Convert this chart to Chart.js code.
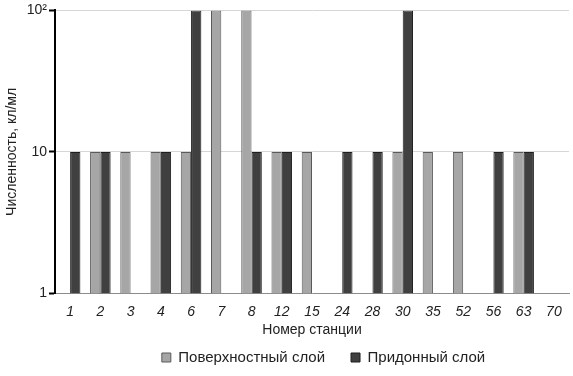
<!DOCTYPE html>
<html>
<head>
<meta charset="utf-8">
<script src="https://cdn.jsdelivr.net/npm/chart.js@4/dist/chart.umd.min.js"></script>
<style>
html,body{margin:0;padding:0;background:#fff;}
#wrap{width:573px;height:376px;}
</style>
</head>
<body>
<div id="wrap"><canvas id="c" width="573" height="376"></canvas></div>
<script>
const stations = ['1','2','3','4','6','7','8','12','15','24','28','30','35','52','56','63','70'];
const surfaceLayer = [null,10,10,10,10,100,100,10,10,null,null,10,10,10,null,10,null];
const bottomLayer = [10,10,null,10,100,null,10,10,null,10,10,100,null,null,10,10,null];
const yTicks = [1,10,100];
const yTickLabels = {1:'1',10:'10',100:'10\u00B2'};

const FONT = "'Liberation Sans', Arial, sans-serif";

const legendShift = {
  id:'legendShift',
  afterInit(chart){
    const lg = chart.legend;
    if(!lg) return;
    const d = lg.draw;
    lg.draw = function(a){
      const ctx = this.ctx;
      ctx.save();
      ctx.translate(37, 0);
      d.call(this, a);
      ctx.restore();
    };
  }
};

new Chart(document.getElementById('c'), {
  type: 'bar',
  data: {
    labels: stations,
    datasets: [
      {label:'Поверхностный слой', data: surfaceLayer, backgroundColor:'#a6a6a6', borderColor:'#5a5a5a', borderWidth:1},
      {label:'Придонный слой', data: bottomLayer, backgroundColor:'#404040', borderColor:'#1e1e1e', borderWidth:1}
    ]
  },
  plugins:[legendShift],
  options: {
    responsive:false,
    animation:false,
    layout:{padding:{top:4,right:4,left:4,bottom:1}},
    datasets:{bar:{barPercentage:1.0, categoryPercentage:0.68}},
    plugins:{
      legend:{
        position:'bottom',
        labels:{boxWidth:9, boxHeight:9, padding:26, color:'#222', font:{family:FONT, size:15}}
      },
      tooltip:{enabled:false}
    },
    scales:{
      x:{
        grid:{display:true, drawOnChartArea:false, drawTicks:false},
        border:{display:true, color:'#8c8c8c', width:1},
        ticks:{color:'#222', padding:10, maxRotation:0, autoSkip:false, font:{family:FONT, size:14, style:'italic'}},
        title:{display:true, text:'Номер станции', color:'#222', padding:{top:-8,bottom:-15}, font:{family:FONT, size:14}}
      },
      y:{
        type:'logarithmic',
        min:1, max:100,
        afterBuildTicks:(s)=>{ s.ticks = yTicks.map(v=>({value:v})); },
        afterFit:(s)=>{ s.width = 51; },
        grid:{color:'#d6d6d6', lineWidth:1, tickColor:'#000', tickLength:6, tickWidth:2},
        border:{display:true, color:'#000', width:2},
        ticks:{color:'#222', padding:2, font:{family:FONT, size:14}, callback:(v)=>yTickLabels[v] || ''},
        title:{display:true, text:'Численность, кл/мл', color:'#222', padding:{top:0,bottom:4}, font:{family:FONT, size:14}}
      }
    }
  }
});
</script>
</body>
</html>
